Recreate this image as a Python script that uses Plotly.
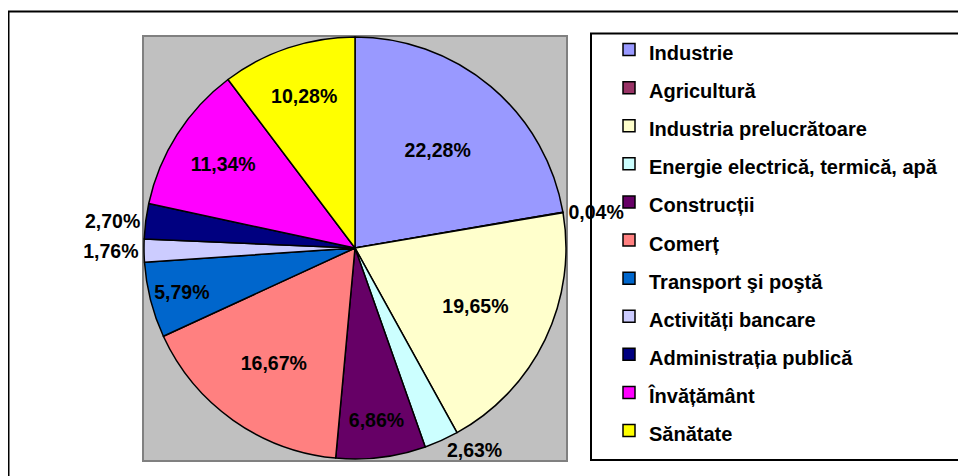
import plotly.graph_objects as go

# sectors, clockwise from 12 o'clock
sectors = [
    "Industrie",
    "Agricultură",
    "Industria prelucrătoare",
    "Energie electrică, termică, apă",
    "Construcții",
    "Comerț",
    "Transport şi poştă",
    "Activități bancare",
    "Administrația publică",
    "Învățământ",
    "Sănătate",
]
shares = [22.28, 0.04, 19.65, 2.63, 6.86, 16.67, 5.79, 1.76, 2.70, 11.34, 10.28]
colors = [
    "#9999FF", "#993366", "#FFFFCC", "#CCFFFF", "#660066", "#FF8080",
    "#0066CC", "#CCCCFF", "#000080", "#FF00FF", "#FFFF00",
]
label_pos = [
    "inside", "outside", "inside", "outside", "inside", "inside",
    "inside", "outside", "outside", "inside", "inside",
]

W, H = 966, 476
FONT = "Arial, Liberation Sans, sans-serif"
OFF = 8  # page body margin, figure starts 8px in


def px_x(x):
    return (x - OFF) / W


def px_y(y):
    return 1 - (y - OFF) / H


# pie geometry in page pixels
cx, cy, r = 355, 248, 211

# legend entries keep the big line height of the legend font, text shown smaller
legend_labels = ['<span style="font-size:20px">%s</span>' % s for s in sectors]

fig = go.Figure(
    go.Pie(
        labels=legend_labels,
        values=shares,
        sort=False,
        direction="clockwise",
        rotation=0,
        marker=dict(colors=colors, line=dict(color="black", width=1.5)),
        texttemplate="%{percent:.2%}",
        textposition=label_pos,
        insidetextorientation="horizontal",
        textfont=dict(family=FONT, size=19.5, color="black", weight="bold"),
        hoverinfo="skip",
        domain=dict(
            x=[px_x(cx - r), px_x(cx + r)],
            y=[px_y(cy + r), px_y(cy - r)],
        ),
    )
)

shapes = [
    # outer chart border
    dict(type="rect", xref="paper", yref="paper",
         x0=px_x(8.5), x1=1.05, y0=-0.05, y1=px_y(11.5),
         line=dict(color="black", width=2), fillcolor="rgba(0,0,0,0)",
         layer="below"),
    # grey plot area
    dict(type="rect", xref="paper", yref="paper",
         x0=px_x(143), x1=px_x(567), y0=px_y(461), y1=px_y(36),
         line=dict(color="#808080", width=2), fillcolor="#C0C0C0",
         layer="below"),
    # legend box
    dict(type="rect", xref="paper", yref="paper",
         x0=px_x(591), x1=1.05, y0=px_y(460), y1=px_y(33.5),
         line=dict(color="black", width=2), fillcolor="white",
         layer="below"),
]

fig.update_layout(
    width=W,
    height=H,
    margin=dict(l=0, r=0, t=0, b=0),
    paper_bgcolor="white",
    plot_bgcolor="white",
    separators=",.",
    shapes=shapes,
    showlegend=True,
    uniformtext=dict(minsize=19.5, mode="show"),
    legend=dict(
        x=px_x(609),
        xanchor="left",
        y=px_y(25.5),
        yanchor="top",
        bgcolor="rgba(0,0,0,0)",
        borderwidth=0,
        font=dict(family=FONT, size=27, color="black", weight="bold"),
        traceorder="normal",
    ),
)

fig.write_html("out.html")
